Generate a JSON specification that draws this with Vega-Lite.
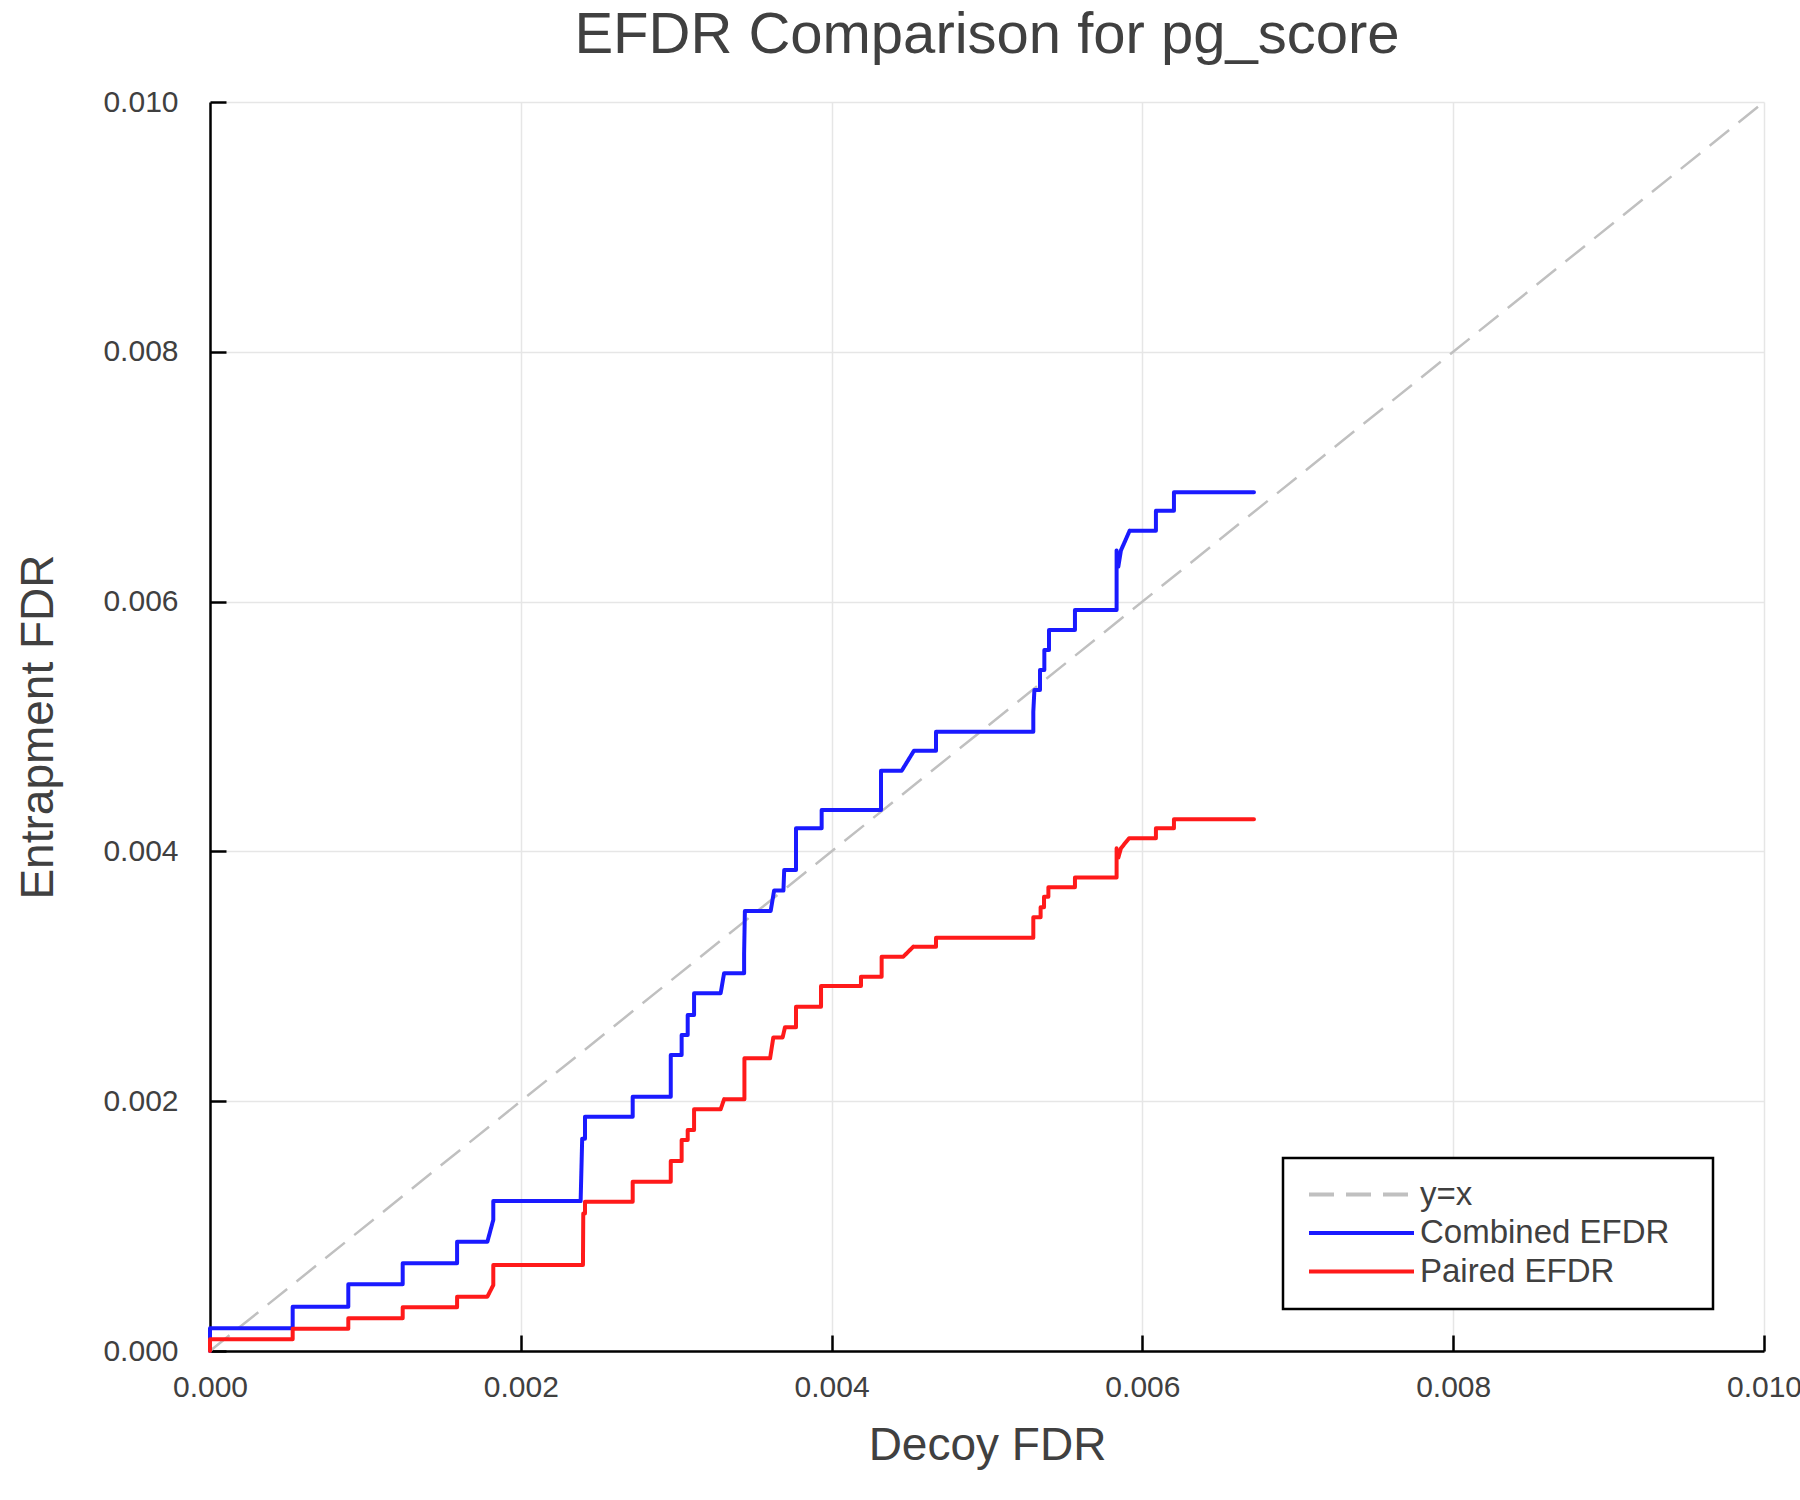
{
  "$schema": "https://vega.github.io/schema/vega-lite/v6.json",
  "autosize": {"type": "none"},
  "padding": {"left": 210, "top": 102, "right": 36, "bottom": 149},
  "width": 1554,
  "height": 1249,
  "background": "white",
  "title": {
    "text": "EFDR Comparison for pg_score",
    "font": "Liberation Sans",
    "fontSize": 58,
    "fontWeight": "normal",
    "color": "#404040",
    "anchor": "middle",
    "frame": "group",
    "baseline": "bottom",
    "offset": 20,
    "dy": 56
  },
  "config": {
    "view": {"stroke": null},
    "axis": {
      "labelFont": "Liberation Sans",
      "labelFontSize": 30,
      "labelColor": "#404040",
      "titleFont": "Liberation Sans",
      "titleFontSize": 46,
      "titleFontWeight": "normal",
      "titleColor": "#404040",
      "tickColor": "black",
      "tickWidth": 2.5,
      "tickSize": -16,
      "domainColor": "black",
      "domainWidth": 2.5,
      "gridColor": "#e6e6e6",
      "gridWidth": 1.5,
      "labelFlush": false,
      "labelOverlap": false
    },
    "legend": {"symbolStrokeWidth": 4}
  },
  "data": {
    "values": [
      {"series": "y=x", "i": 0, "x": 0, "y": 0},
      {"series": "y=x", "i": 1, "x": 0.01, "y": 0.01},

      {"series": "Combined EFDR", "i": 0, "x": 0, "y": 0},
      {"series": "Combined EFDR", "i": 1, "x": 0, "y": 0.000182},
      {"series": "Combined EFDR", "i": 2, "x": 0.000532, "y": 0.000182},
      {"series": "Combined EFDR", "i": 3, "x": 0.000532, "y": 0.000355},
      {"series": "Combined EFDR", "i": 4, "x": 0.00089, "y": 0.000355},
      {"series": "Combined EFDR", "i": 5, "x": 0.00089, "y": 0.000534},
      {"series": "Combined EFDR", "i": 6, "x": 0.00124, "y": 0.000534},
      {"series": "Combined EFDR", "i": 7, "x": 0.00124, "y": 0.000702},
      {"series": "Combined EFDR", "i": 8, "x": 0.00159, "y": 0.000702},
      {"series": "Combined EFDR", "i": 9, "x": 0.00159, "y": 0.000875},
      {"series": "Combined EFDR", "i": 10, "x": 0.001785, "y": 0.000875},
      {"series": "Combined EFDR", "i": 11, "x": 0.001823, "y": 0.00105},
      {"series": "Combined EFDR", "i": 12, "x": 0.001823, "y": 0.0012},
      {"series": "Combined EFDR", "i": 13, "x": 0.002385, "y": 0.0012},
      {"series": "Combined EFDR", "i": 14, "x": 0.002395, "y": 0.0017},
      {"series": "Combined EFDR", "i": 15, "x": 0.002413, "y": 0.0017},
      {"series": "Combined EFDR", "i": 16, "x": 0.002413, "y": 0.001876},
      {"series": "Combined EFDR", "i": 17, "x": 0.00272, "y": 0.001876},
      {"series": "Combined EFDR", "i": 18, "x": 0.00272, "y": 0.002036},
      {"series": "Combined EFDR", "i": 19, "x": 0.002965, "y": 0.002036},
      {"series": "Combined EFDR", "i": 20, "x": 0.002965, "y": 0.00237},
      {"series": "Combined EFDR", "i": 21, "x": 0.003035, "y": 0.00237},
      {"series": "Combined EFDR", "i": 22, "x": 0.003035, "y": 0.00253},
      {"series": "Combined EFDR", "i": 23, "x": 0.003074, "y": 0.00253},
      {"series": "Combined EFDR", "i": 24, "x": 0.003074, "y": 0.00269},
      {"series": "Combined EFDR", "i": 25, "x": 0.003115, "y": 0.00269},
      {"series": "Combined EFDR", "i": 26, "x": 0.003115, "y": 0.002864},
      {"series": "Combined EFDR", "i": 27, "x": 0.003286, "y": 0.002864},
      {"series": "Combined EFDR", "i": 28, "x": 0.003308, "y": 0.003024},
      {"series": "Combined EFDR", "i": 29, "x": 0.003437, "y": 0.003024},
      {"series": "Combined EFDR", "i": 30, "x": 0.003437, "y": 0.00318},
      {"series": "Combined EFDR", "i": 31, "x": 0.003442, "y": 0.003523},
      {"series": "Combined EFDR", "i": 32, "x": 0.003608, "y": 0.003523},
      {"series": "Combined EFDR", "i": 33, "x": 0.00363, "y": 0.003686},
      {"series": "Combined EFDR", "i": 34, "x": 0.00369, "y": 0.003686},
      {"series": "Combined EFDR", "i": 35, "x": 0.003695, "y": 0.003851},
      {"series": "Combined EFDR", "i": 36, "x": 0.003771, "y": 0.003851},
      {"series": "Combined EFDR", "i": 37, "x": 0.003771, "y": 0.004185},
      {"series": "Combined EFDR", "i": 38, "x": 0.003936, "y": 0.004185},
      {"series": "Combined EFDR", "i": 39, "x": 0.003936, "y": 0.004331},
      {"series": "Combined EFDR", "i": 40, "x": 0.004318, "y": 0.004331},
      {"series": "Combined EFDR", "i": 41, "x": 0.004318, "y": 0.004646},
      {"series": "Combined EFDR", "i": 42, "x": 0.004451, "y": 0.004646},
      {"series": "Combined EFDR", "i": 43, "x": 0.00453, "y": 0.004806},
      {"series": "Combined EFDR", "i": 44, "x": 0.004672, "y": 0.004806},
      {"series": "Combined EFDR", "i": 45, "x": 0.004672, "y": 0.004958},
      {"series": "Combined EFDR", "i": 46, "x": 0.005298, "y": 0.004958},
      {"series": "Combined EFDR", "i": 47, "x": 0.005298, "y": 0.005118},
      {"series": "Combined EFDR", "i": 48, "x": 0.005305, "y": 0.005292},
      {"series": "Combined EFDR", "i": 49, "x": 0.005341, "y": 0.005292},
      {"series": "Combined EFDR", "i": 50, "x": 0.005341, "y": 0.005452},
      {"series": "Combined EFDR", "i": 51, "x": 0.005369, "y": 0.005452},
      {"series": "Combined EFDR", "i": 52, "x": 0.005369, "y": 0.005612},
      {"series": "Combined EFDR", "i": 53, "x": 0.005399, "y": 0.005612},
      {"series": "Combined EFDR", "i": 54, "x": 0.005399, "y": 0.005773},
      {"series": "Combined EFDR", "i": 55, "x": 0.005566, "y": 0.005773},
      {"series": "Combined EFDR", "i": 56, "x": 0.005566, "y": 0.005933},
      {"series": "Combined EFDR", "i": 57, "x": 0.005834, "y": 0.005933},
      {"series": "Combined EFDR", "i": 58, "x": 0.005834, "y": 0.00641},
      {"series": "Combined EFDR", "i": 59, "x": 0.005845, "y": 0.00628},
      {"series": "Combined EFDR", "i": 60, "x": 0.005862, "y": 0.00641},
      {"series": "Combined EFDR", "i": 61, "x": 0.005918, "y": 0.006568},
      {"series": "Combined EFDR", "i": 62, "x": 0.006087, "y": 0.006568},
      {"series": "Combined EFDR", "i": 63, "x": 0.006087, "y": 0.006728},
      {"series": "Combined EFDR", "i": 64, "x": 0.006203, "y": 0.006728},
      {"series": "Combined EFDR", "i": 65, "x": 0.006203, "y": 0.006875},
      {"series": "Combined EFDR", "i": 66, "x": 0.006718, "y": 0.006875},

      {"series": "Paired EFDR", "i": 0, "x": 0, "y": 0},
      {"series": "Paired EFDR", "i": 1, "x": 0, "y": 0.0000934},
      {"series": "Paired EFDR", "i": 2, "x": 0.000532, "y": 0.0000934},
      {"series": "Paired EFDR", "i": 3, "x": 0.000532, "y": 0.000179},
      {"series": "Paired EFDR", "i": 4, "x": 0.00089, "y": 0.000179},
      {"series": "Paired EFDR", "i": 5, "x": 0.00089, "y": 0.000262},
      {"series": "Paired EFDR", "i": 6, "x": 0.00124, "y": 0.000262},
      {"series": "Paired EFDR", "i": 7, "x": 0.00124, "y": 0.00035},
      {"series": "Paired EFDR", "i": 8, "x": 0.00159, "y": 0.00035},
      {"series": "Paired EFDR", "i": 9, "x": 0.00159, "y": 0.000435},
      {"series": "Paired EFDR", "i": 10, "x": 0.001785, "y": 0.000435},
      {"series": "Paired EFDR", "i": 11, "x": 0.001823, "y": 0.000528},
      {"series": "Paired EFDR", "i": 12, "x": 0.001823, "y": 0.000689},
      {"series": "Paired EFDR", "i": 13, "x": 0.0024, "y": 0.000689},
      {"series": "Paired EFDR", "i": 14, "x": 0.002402, "y": 0.0011},
      {"series": "Paired EFDR", "i": 15, "x": 0.002413, "y": 0.0011},
      {"series": "Paired EFDR", "i": 16, "x": 0.002413, "y": 0.001195},
      {"series": "Paired EFDR", "i": 17, "x": 0.00272, "y": 0.001195},
      {"series": "Paired EFDR", "i": 18, "x": 0.00272, "y": 0.001356},
      {"series": "Paired EFDR", "i": 19, "x": 0.002965, "y": 0.001356},
      {"series": "Paired EFDR", "i": 20, "x": 0.002965, "y": 0.001521},
      {"series": "Paired EFDR", "i": 21, "x": 0.003035, "y": 0.001521},
      {"series": "Paired EFDR", "i": 22, "x": 0.003035, "y": 0.00169},
      {"series": "Paired EFDR", "i": 23, "x": 0.003074, "y": 0.00169},
      {"series": "Paired EFDR", "i": 24, "x": 0.003074, "y": 0.00177},
      {"series": "Paired EFDR", "i": 25, "x": 0.003115, "y": 0.00177},
      {"series": "Paired EFDR", "i": 26, "x": 0.003115, "y": 0.001935},
      {"series": "Paired EFDR", "i": 27, "x": 0.003286, "y": 0.001935},
      {"series": "Paired EFDR", "i": 28, "x": 0.003308, "y": 0.002015},
      {"series": "Paired EFDR", "i": 29, "x": 0.003439, "y": 0.002015},
      {"series": "Paired EFDR", "i": 30, "x": 0.003439, "y": 0.002343},
      {"series": "Paired EFDR", "i": 31, "x": 0.003604, "y": 0.002343},
      {"series": "Paired EFDR", "i": 32, "x": 0.003625, "y": 0.002511},
      {"series": "Paired EFDR", "i": 33, "x": 0.003685, "y": 0.002511},
      {"series": "Paired EFDR", "i": 34, "x": 0.0037, "y": 0.002592},
      {"series": "Paired EFDR", "i": 35, "x": 0.003771, "y": 0.002592},
      {"series": "Paired EFDR", "i": 36, "x": 0.003771, "y": 0.002757},
      {"series": "Paired EFDR", "i": 37, "x": 0.003932, "y": 0.002757},
      {"series": "Paired EFDR", "i": 38, "x": 0.003932, "y": 0.002922},
      {"series": "Paired EFDR", "i": 39, "x": 0.004189, "y": 0.002922},
      {"series": "Paired EFDR", "i": 40, "x": 0.004189, "y": 0.002997},
      {"series": "Paired EFDR", "i": 41, "x": 0.004322, "y": 0.002997},
      {"series": "Paired EFDR", "i": 42, "x": 0.004322, "y": 0.003157},
      {"series": "Paired EFDR", "i": 43, "x": 0.004461, "y": 0.003157},
      {"series": "Paired EFDR", "i": 44, "x": 0.004526, "y": 0.003237},
      {"series": "Paired EFDR", "i": 45, "x": 0.004672, "y": 0.003237},
      {"series": "Paired EFDR", "i": 46, "x": 0.004672, "y": 0.003309},
      {"series": "Paired EFDR", "i": 47, "x": 0.005298, "y": 0.003309},
      {"series": "Paired EFDR", "i": 48, "x": 0.005298, "y": 0.003472},
      {"series": "Paired EFDR", "i": 49, "x": 0.005345, "y": 0.003472},
      {"series": "Paired EFDR", "i": 50, "x": 0.005345, "y": 0.003552},
      {"series": "Paired EFDR", "i": 51, "x": 0.005367, "y": 0.003552},
      {"series": "Paired EFDR", "i": 52, "x": 0.005367, "y": 0.003637},
      {"series": "Paired EFDR", "i": 53, "x": 0.005395, "y": 0.003637},
      {"series": "Paired EFDR", "i": 54, "x": 0.005395, "y": 0.003713},
      {"series": "Paired EFDR", "i": 55, "x": 0.005566, "y": 0.003713},
      {"series": "Paired EFDR", "i": 56, "x": 0.005566, "y": 0.003792},
      {"series": "Paired EFDR", "i": 57, "x": 0.005834, "y": 0.003792},
      {"series": "Paired EFDR", "i": 58, "x": 0.005834, "y": 0.004025},
      {"series": "Paired EFDR", "i": 59, "x": 0.005845, "y": 0.00395},
      {"series": "Paired EFDR", "i": 60, "x": 0.005862, "y": 0.004025},
      {"series": "Paired EFDR", "i": 61, "x": 0.005914, "y": 0.004105},
      {"series": "Paired EFDR", "i": 62, "x": 0.006087, "y": 0.004105},
      {"series": "Paired EFDR", "i": 63, "x": 0.006087, "y": 0.004185},
      {"series": "Paired EFDR", "i": 64, "x": 0.006203, "y": 0.004185},
      {"series": "Paired EFDR", "i": 65, "x": 0.006203, "y": 0.004257},
      {"series": "Paired EFDR", "i": 66, "x": 0.006718, "y": 0.004257}
    ]
  },
  "encoding": {
    "x": {
      "field": "x",
      "type": "quantitative",
      "scale": {"domain": [0, 0.01], "nice": false},
      "axis": {
        "title": "Decoy FDR",
        "values": [0, 0.002, 0.004, 0.006, 0.008, 0.01],
        "format": ".3f",
        "labelPadding": 37,
        "titlePadding": 21
      }
    },
    "y": {
      "field": "y",
      "type": "quantitative",
      "scale": {"domain": [0, 0.01], "nice": false},
      "axis": {
        "title": "Entrapment FDR",
        "values": [0, 0.002, 0.004, 0.006, 0.008, 0.01],
        "format": ".3f",
        "labelPadding": 48,
        "titlePadding": 40
      }
    },
    "order": {"field": "i", "type": "quantitative"},
    "color": {
      "field": "series",
      "type": "nominal",
      "scale": {
        "domain": ["y=x", "Combined EFDR", "Paired EFDR"],
        "range": ["#c0c0c0", "#1a1aff", "#ff1a1a"]
      },
      "legend": {
        "orient": "none",
        "legendX": 1073,
        "legendY": 1056,
        "title": "\u00a0",
        "titleOrient": "right",
        "titlePadding": 24,
        "titleFontSize": 33,
        "padding": 20,
        "strokeColor": "black",
        "fillColor": "white",
        "symbolType": "M-1,0H9",
        "symbolSize": 441,
        "labelFont": "Liberation Sans",
        "labelFontSize": 33,
        "labelColor": "#404040",
        "labelOffset": 84,
        "labelLimit": 1000,
        "rowPadding": 4.5,
        "encode": {"legend": {"update": {"strokeWidth": {"value": 2.5}}}}
      }
    },
    "strokeDash": {
      "field": "series",
      "type": "nominal",
      "scale": {
        "domain": ["y=x", "Combined EFDR", "Paired EFDR"],
        "range": [[25, 12], [1, 0], [1, 0]]
      }
    }
  },
  "layer": [
    {
      "transform": [{"filter": "datum.series === 'y=x'"}],
      "mark": {"type": "line", "strokeWidth": 2.5}
    },
    {
      "transform": [{"filter": "datum.series !== 'y=x'"}],
      "mark": {"type": "line", "strokeWidth": 4, "strokeCap": "round", "strokeJoin": "round"}
    }
  ]
}
